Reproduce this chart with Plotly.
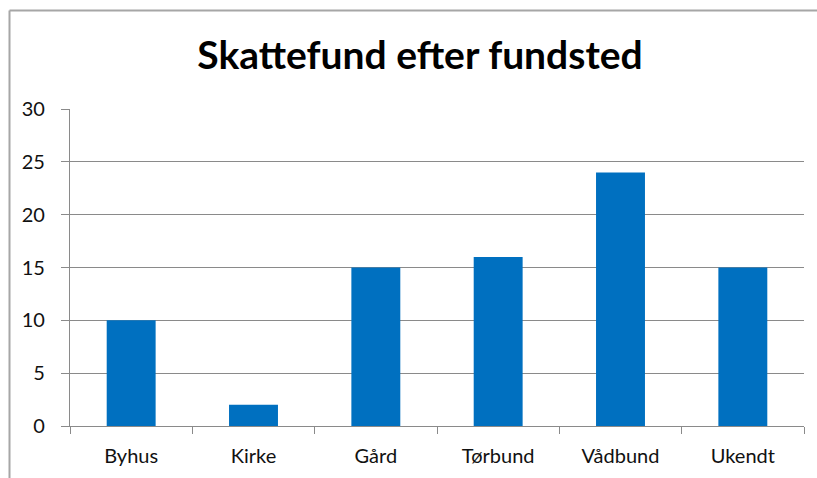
import plotly.graph_objects as go

categories = ["Byhus", "Kirke", "Gård", "Tørbund", "Vådbund", "Ukendt"]
values = [10, 2, 15, 16, 24, 15]
y_ticks = [0, 5, 10, 15, 20, 25, 30]

W, H = 817, 478
L, R, T, B = 70, 13, 109, 52
pw = W - L - R
ph = H - T - B

def px_x(x):
    return (x - L) / pw

def px_y(y):
    return (H - B - y) / ph

fig = go.Figure(go.Bar(
    x=categories, y=values,
    marker=dict(color="#0070C0", line=dict(width=0)),
    width=0.4,
))

font_family = "Lato, 'Open Sans', sans-serif"

fig.update_layout(
    width=W, height=H,
    margin=dict(l=L, r=R, t=T, b=B),
    paper_bgcolor="white", plot_bgcolor="white",
    showlegend=False,
    title=dict(text="<b>Skattefund efter fundsted</b>", xref="container", x=420 / W, xanchor="center",
               y=1 - 55 / H, yanchor="middle",
               font=dict(family=font_family, size=39, color="black")),
    font=dict(family=font_family, size=20, color="#000000"),
)

fig.update_xaxes(
    showgrid=False, showline=True, linecolor="#8a8a8a", linewidth=1.3,
    ticks="outside", ticklen=7, tickcolor="#8a8a8a", tickwidth=1.3, tickson="boundaries",
    tickfont=dict(size=20, color="#111111"),
    ticklabelstandoff=12,
    range=[-0.5, 5.5],
)
fig.update_yaxes(
    range=[0, 30], tickvals=y_ticks, ticktext=[str(v) for v in y_ticks],
    showgrid=True, gridcolor="#8a8a8a", gridwidth=1.3,
    showline=True, linecolor="#8a8a8a", linewidth=1.3,
    ticks="outside", ticklen=8, tickcolor="#8a8a8a", tickwidth=1.3,
    tickfont=dict(size=20, color="#111111"),
    ticklabelstandoff=12,
    zeroline=False,
)

bx = px_x(9.5)
by = px_y(10.5)
fig.add_shape(type="line", xref="paper", yref="paper", x0=bx, x1=bx, y0=px_y(H), y1=by,
              line=dict(color="#a6a6a6", width=2))
fig.add_shape(type="line", xref="paper", yref="paper", x0=bx, x1=px_x(W), y0=by, y1=by,
              line=dict(color="#a6a6a6", width=2))

fig.write_html("out.html", config={"displayModeBar": False},
               post_script="document.body.style.margin='0';document.body.style.overflow='hidden';")
